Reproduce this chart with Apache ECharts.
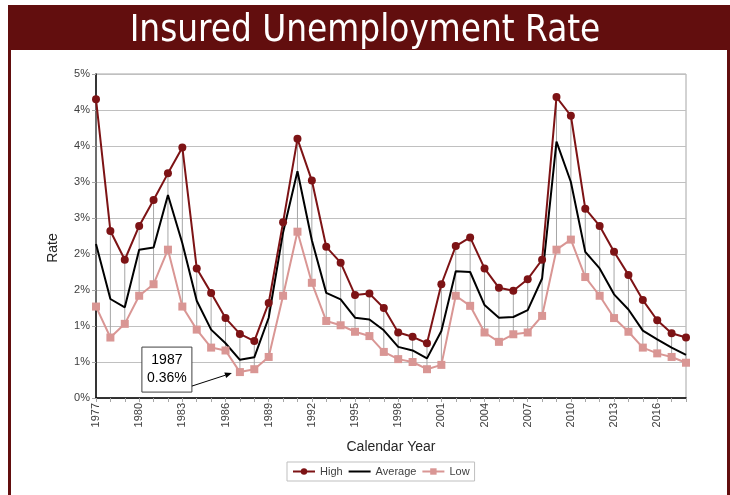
<!DOCTYPE html>
<html>
<head>
<meta charset="utf-8">
<script src="https://cdn.jsdelivr.net/npm/echarts@6/dist/echarts.min.js"></script>
<style>
html,body{margin:0;padding:0;background:#fff;}
#c{width:730px;height:495px;}
</style>
</head>
<body>
<div id="c"></div>
<script>
var years = [];
for (var y = 1977; y <= 2018; y++) years.push(String(y));

var high = [4.15,2.32,1.92,2.39,2.75,3.12,3.48,1.80,1.46,1.11,0.89,
            0.79,1.32,2.44,3.60,3.02,2.10,1.88,1.43,1.45,1.25,
            0.91,0.85,0.76,1.58,2.11,2.23,1.80,1.53,1.49,1.65,
            1.92,4.18,3.92,2.63,2.39,2.03,1.71,1.36,1.08,0.90,0.84];
var average = [2.14,1.375,1.26,2.06,2.09,2.82,2.15,1.35,0.95,0.76,0.53,
               0.565,1.115,2.30,3.15,2.19,1.46,1.37,1.115,1.09,0.94,
               0.71,0.66,0.55,0.93,1.76,1.75,1.29,1.115,1.125,1.22,
               1.66,3.56,3.00,2.03,1.80,1.44,1.23,0.935,0.815,0.70,0.60];
var low = [1.27,0.84,1.03,1.42,1.58,2.06,1.27,0.95,0.70,0.66,0.36,
           0.40,0.57,1.42,2.31,1.60,1.07,1.01,0.92,0.86,0.64,
           0.54,0.50,0.40,0.46,1.42,1.28,0.91,0.78,0.885,0.91,
           1.14,2.06,2.20,1.68,1.42,1.11,0.92,0.70,0.62,0.57,0.49];

var noteYear = '1987';
var noteValue = 0.36;
var noteText = '1987\n0.36%';

var hiLoData = years.map(function (yr, i) { return [i, high[i], low[i]]; });
var noteIdx = years.indexOf(noteYear);

var RED = '#7d1315';
var PINK = '#d99694';
var FRAME = '#620e0e';
var labelFont = 'Liberation Sans';

var chart = echarts.init(document.getElementById('c'));
chart.setOption({
  animation: false,
  backgroundColor: '#fff',
  title: {
    text: 'Insured Unemployment Rate',
    left: 'center',
    top: 8,
    textStyle: { color: '#fff', fontSize: 36.5, fontWeight: 'normal', fontFamily: 'DejaVu Sans Condensed' }
  },
  graphic: [
    { type: 'rect', z: -1, shape: { x: 8, y: 5, width: 722, height: 45 }, style: { fill: FRAME } },
    { type: 'rect', z: -1, shape: { x: 8, y: 5, width: 3, height: 490 }, style: { fill: FRAME } },
    { type: 'rect', z: -1, shape: { x: 727, y: 5, width: 3, height: 490 }, style: { fill: FRAME } }
  ],
  grid: { left: 96, right: 44, top: 74, bottom: 97, show: true, borderColor: '#a6a6a6', borderWidth: 1 },
  legend: {
    data: ['High', { name: 'Average', itemStyle: { opacity: 0 } }, 'Low'],
    left: 287, top: 462,
    itemWidth: 22, itemHeight: 8, itemGap: 5,
    padding: [4, 5, 4, 5],
    borderColor: '#bfbfbf', borderWidth: 1,
    textStyle: { fontSize: 11, color: '#404040', fontFamily: labelFont }
  },
  xAxis: {
    type: 'category',
    data: years,
    boundaryGap: false,
    name: 'Calendar Year',
    nameLocation: 'middle',
    nameGap: 42,
    nameTextStyle: { fontSize: 14, color: '#262626', fontFamily: labelFont },
    axisLine: { lineStyle: { color: '#000', width: 1.5 } },
    axisTick: { interval: 0, length: 4, lineStyle: { color: '#a6a6a6' } },
    axisLabel: { interval: 2, rotate: 90, fontSize: 11, color: '#404040', fontFamily: labelFont, margin: 5 },
    splitLine: { show: false }
  },
  yAxis: {
    type: 'value',
    min: 0, max: 4.5, interval: 0.5,
    name: 'Rate',
    nameLocation: 'middle',
    nameGap: 36,
    nameTextStyle: { fontSize: 14, color: '#262626', fontFamily: labelFont, padding: [0, 24, 0, 0] },
    axisLine: { show: true, lineStyle: { color: '#000', width: 1.5 } },
    axisTick: { show: true, length: 4, lineStyle: { color: '#a6a6a6' } },
    axisLabel: { fontSize: 11, color: '#404040', fontFamily: labelFont, margin: 6,
      formatter: function (v) { return Math.round(v) + '%'; } },
    splitLine: { lineStyle: { color: '#c0c0c0', width: 1 } }
  },
  series: [
    {
      type: 'custom',
      name: 'hilo',
      z: 1,
      data: hiLoData,
      encode: { x: 0, y: [1, 2] },
      renderItem: function (params, api) {
        var p1 = api.coord([api.value(0), api.value(1)]);
        var p2 = api.coord([api.value(0), api.value(2)]);
        return { type: 'line', shape: { x1: p1[0], y1: p1[1], x2: p2[0], y2: p2[1] },
                 style: { stroke: '#a6a6a6', lineWidth: 1 } };
      }
    },
    {
      type: 'line', name: 'High', data: high, z: 4,
      symbol: 'circle', symbolSize: 8,
      lineStyle: { color: RED, width: 2 },
      itemStyle: { color: RED }
    },
    {
      type: 'line', name: 'Average', data: average, z: 3,
      symbol: 'none',
      lineStyle: { color: '#000', width: 2 },
      itemStyle: { color: '#000' }
    },
    {
      type: 'line', name: 'Low', data: low, z: 3,
      symbol: 'rect', symbolSize: 8,
      lineStyle: { color: PINK, width: 2 },
      itemStyle: { color: PINK }
    },
    {
      type: 'custom',
      name: 'note',
      z: 6,
      data: [[noteIdx, noteValue]],
      renderItem: function (params, api) {
        var p = api.coord([api.value(0), api.value(1)]);
        var bx = p[0] - 98, by = p[1] - 25, bw = 50, bh = 45;
        var ax1 = bx + bw, ay1 = p[1] + 14, ax2 = p[0] - 8, ay2 = p[1] + 1;
        var ang = Math.atan2(ay2 - ay1, ax2 - ax1);
        var hl = 7, hw = 3;
        var hx = ax2 - hl * Math.cos(ang), hy = ay2 - hl * Math.sin(ang);
        return {
          type: 'group',
          children: [
            { type: 'rect', shape: { x: bx, y: by, width: bw, height: bh },
              style: { fill: '#fff', stroke: '#404040', lineWidth: 1 } },
            { type: 'text', style: { x: bx + bw / 2, y: by + bh / 2, text: noteText,
                align: 'center', verticalAlign: 'middle', fontSize: 14, lineHeight: 18,
                fill: '#000', fontFamily: labelFont } },
            { type: 'line', shape: { x1: ax1, y1: ay1, x2: hx, y2: hy },
              style: { stroke: '#000', lineWidth: 1 } },
            { type: 'polygon', shape: { points: [[ax2, ay2],
                [hx + hw * Math.sin(ang), hy - hw * Math.cos(ang)],
                [hx - hw * Math.sin(ang), hy + hw * Math.cos(ang)]] },
              style: { fill: '#000' } }
          ]
        };
      }
    }
  ]
});
</script>
</body>
</html>
